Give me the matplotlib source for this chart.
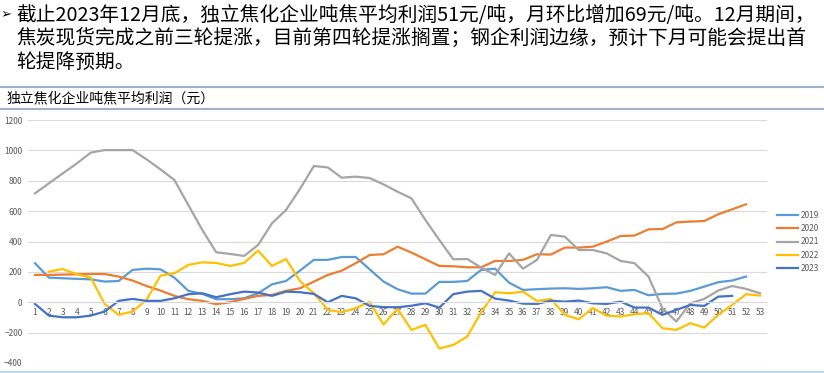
import matplotlib
matplotlib.use('Agg')
import matplotlib.pyplot as plt
import numpy as np
from matplotlib.lines import Line2D

plt.rcParams['font.family'] = ['Noto Sans CJK SC', 'DejaVu Sans']

weeks = list(range(1, 54))
N = None
y2019 = [257, 162, 158, 154, 151, 136, 140, 213, 221, 217,
         162, 75, 55, 20, 20, 26, 59, 118, 140, 208,
         279, 279, 298, 298, 217, 136, 86, 57, 57, 134,
         134, 140, 213, 221, 129, 81, 86, 90, 92, 88,
         92, 99, 75, 81, 46, 55, 57, 75, 103, 132,
         143, 169, N]
y2020 = [180, 180, 182, 184, 186, 186, 169, 143, 107, 77,
         42, 20, 9, -13, 0, 22, 42, 48, 75, 92,
         136, 180, 208, 257, 311, 316, 366, 327, 283, 239,
         237, 230, 230, 272, 272, 279, 316, 314, 360, 360,
         366, 399, 436, 439, 480, 482, 526, 531, 535, 579,
         612, 645, N]
y2021 = [717, 783, 849, 914, 985, 1002, 1002, 1002, 941, 875,
         805, 640, 476, 329, 318, 305, 377, 520, 607, 745,
         897, 888, 820, 827, 818, 776, 728, 684, 542, 410,
         283, 285, 228, 180, 322, 221, 279, 443, 432, 344,
         344, 322, 272, 257, 169, -39, -127, -7, 22, 77,
         107, 88, 59]
y2022 = [N, 202, 219, 184, 162, -11, -83, -61, 15, 175,
         191, 246, 263, 259, 239, 259, 340, 239, 285, 140,
         59, -50, -66, -39, 2, -147, -42, -182, -149, -305,
         -281, -226, -66, 66, 59, 70, 9, 21, -83, -112,
         -39, -88, -94, -79, -72, -171, -182, -138, -167, -83,
         -18, 53, 44]
y2023 = [-11, -88, -99, -99, -88, -61, 9, 22, 9, 9,
         26, 53, 59, 33, 53, 70, 64, 42, 70, 66,
         55, 0, 42, 26, -24, -32, -33, -23, -7, -35,
         53, 70, 75, 24, 11, -9, -11, 10, 4, 11,
         -7, -11, 4, -35, -35, -83, -50, -18, -24, 37,
         42, N, N]

series_names = ['2019', '2020', '2021', '2022', '2023']
series_vals = [y2019, y2020, y2021, y2022, y2023]
colors = ['#5B9BD5', '#ED7D31', '#A5A5A5', '#FFC000', '#4472C4']

header_lines = [
    '截止2023年12月底，独立焦化企业吨焦平均利润51元/吨，月环比增加69元/吨。12月期间，',
    '焦炭现货完成之前三轮提涨，目前第四轮提涨搁置；钢企利润边缘，预计下月可能会提出首',
    '轮提降预期。',
]
chart_title = '独立焦化企业吨焦平均利润（元）'

W, H = 824, 373
fig = plt.figure(figsize=(W / 100, H / 100), dpi=100)
fig.patch.set_facecolor('white')

def fx(px):
    return px / W

def fy(py):
    return 1 - py / H

# header
fig.text(fx(1), fy(15), '➢', fontsize=9.5, va='center', ha='left',
         family=['DejaVu Sans'], color='black', fontweight='bold')
for t, yy in zip(header_lines, [15, 39, 62]):
    fig.text(fx(16), fy(yy), t, fontsize=14.2, va='center', ha='left',
             color='black', fontweight='medium')

# separator lines
fig.add_artist(Line2D([0, 1], [fy(86.5), fy(86.5)], color='#9DB3C9', lw=1.5))
fig.add_artist(Line2D([0, 1], [fy(108.5), fy(108.5)], color='#9DB3C9', lw=1.5))
fig.add_artist(Line2D([0, 1], [fy(371.5), fy(371.5)], color='#BDD7EE', lw=1.5))

fig.text(fx(7), fy(98), chart_title, fontsize=10, va='center', ha='left', color='black')

ax = fig.add_axes([fx(28), fy(363), fx(767) - fx(28), fy(120) - fy(363)])
ax.set_xlim(0.5, 53.5)
ax.set_ylim(-400, 1200)
ax.set_yticks(np.arange(-400, 1201, 200))
ax.grid(axis='y', color='#D9D9D9', lw=0.8)
ax.set_axisbelow(True)
for s in ['top', 'right', 'left']:
    ax.spines[s].set_visible(False)
ax.spines['bottom'].set_position(('data', 0))
ax.spines['bottom'].set_color('#D9D9D9')
ax.spines['bottom'].set_linewidth(0.8)
ax.set_xticks(weeks)
ax.set_xticklabels([str(w) for w in weeks])
ax.tick_params(axis='both', length=0, labelsize=6, labelcolor='#595959')
ax.tick_params(axis='x', pad=4)
ax.tick_params(axis='y', pad=4)

for name, vals, c in zip(series_names, series_vals, colors):
    arr = np.array([np.nan if v is None else v for v in vals], dtype=float)
    ax.plot(weeks, arr, color=c, lw=1.6, label=name, solid_joinstyle='round')

leg = fig.legend(loc='center left', bbox_to_anchor=(fx(777), fy(242)),
                 frameon=False, fontsize=6, handlelength=2.5, handletextpad=0.3,
                 labelspacing=0.5, borderaxespad=0, borderpad=0)
for t in leg.get_texts():
    t.set_color('#595959')

fig.savefig('out.png', dpi=100, facecolor='white')
